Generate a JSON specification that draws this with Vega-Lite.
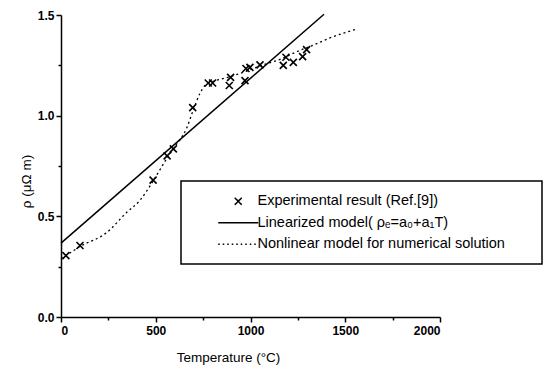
{
  "$schema": "https://vega.github.io/schema/vega-lite/v6.json",
  "width": 379,
  "height": 302,
  "autosize": {"type": "none"},
  "padding": {"left": 61, "top": 15, "right": 107, "bottom": 57},
  "background": "white",
  "config": {
    "view": {"stroke": null},
    "font": "Liberation Sans, Arial, sans-serif",
    "axis": {
      "grid": false,
      "domainColor": "black",
      "domainWidth": 1.5,
      "tickColor": "black",
      "tickWidth": 1.5,
      "labelColor": "black",
      "labelFont": "Liberation Sans, Arial, sans-serif",
      "labelFontSize": 12,
      "labelFontWeight": "bold",
      "titleColor": "black",
      "titleFont": "Liberation Sans, Arial, sans-serif",
      "titleFontSize": 13.5,
      "titleFontWeight": "normal"
    }
  },
  "datasets": {
    "exp": [
      {"series": "Experimental result (Ref.[9])", "T": 26, "rho": 0.305},
      {"series": "Experimental result (Ref.[9])", "T": 100, "rho": 0.355},
      {"series": "Experimental result (Ref.[9])", "T": 486, "rho": 0.68},
      {"series": "Experimental result (Ref.[9])", "T": 560, "rho": 0.80},
      {"series": "Experimental result (Ref.[9])", "T": 593, "rho": 0.835},
      {"series": "Experimental result (Ref.[9])", "T": 695, "rho": 1.04},
      {"series": "Experimental result (Ref.[9])", "T": 777, "rho": 1.162},
      {"series": "Experimental result (Ref.[9])", "T": 800, "rho": 1.162},
      {"series": "Experimental result (Ref.[9])", "T": 888, "rho": 1.15},
      {"series": "Experimental result (Ref.[9])", "T": 895, "rho": 1.19},
      {"series": "Experimental result (Ref.[9])", "T": 971, "rho": 1.174},
      {"series": "Experimental result (Ref.[9])", "T": 976, "rho": 1.234},
      {"series": "Experimental result (Ref.[9])", "T": 997, "rho": 1.24},
      {"series": "Experimental result (Ref.[9])", "T": 1050, "rho": 1.252},
      {"series": "Experimental result (Ref.[9])", "T": 1173, "rho": 1.25},
      {"series": "Experimental result (Ref.[9])", "T": 1187, "rho": 1.29},
      {"series": "Experimental result (Ref.[9])", "T": 1226, "rho": 1.265},
      {"series": "Experimental result (Ref.[9])", "T": 1275, "rho": 1.293},
      {"series": "Experimental result (Ref.[9])", "T": 1296, "rho": 1.328}
    ],
    "lin": [
      {"series": "Linearized model( ρₑ=a₀+a₁T)", "T": 0, "rho": 0.367},
      {"series": "Linearized model( ρₑ=a₀+a₁T)", "T": 1388, "rho": 1.504}
    ],
    "nonlin": [
      {"series": "Nonlinear model for numerical solution", "T": 0, "rho": 0.29},
      {"series": "Nonlinear model for numerical solution", "T": 26, "rho": 0.305},
      {"series": "Nonlinear model for numerical solution", "T": 100, "rho": 0.35},
      {"series": "Nonlinear model for numerical solution", "T": 242, "rho": 0.42},
      {"series": "Nonlinear model for numerical solution", "T": 347, "rho": 0.52},
      {"series": "Nonlinear model for numerical solution", "T": 417, "rho": 0.58},
      {"series": "Nonlinear model for numerical solution", "T": 486, "rho": 0.675},
      {"series": "Nonlinear model for numerical solution", "T": 560, "rho": 0.79},
      {"series": "Nonlinear model for numerical solution", "T": 600, "rho": 0.845},
      {"series": "Nonlinear model for numerical solution", "T": 664, "rho": 0.94},
      {"series": "Nonlinear model for numerical solution", "T": 695, "rho": 1.02},
      {"series": "Nonlinear model for numerical solution", "T": 733, "rho": 1.11},
      {"series": "Nonlinear model for numerical solution", "T": 760, "rho": 1.15},
      {"series": "Nonlinear model for numerical solution", "T": 790, "rho": 1.165},
      {"series": "Nonlinear model for numerical solution", "T": 880, "rho": 1.19},
      {"series": "Nonlinear model for numerical solution", "T": 976, "rho": 1.22},
      {"series": "Nonlinear model for numerical solution", "T": 1060, "rho": 1.25},
      {"series": "Nonlinear model for numerical solution", "T": 1156, "rho": 1.28},
      {"series": "Nonlinear model for numerical solution", "T": 1250, "rho": 1.32},
      {"series": "Nonlinear model for numerical solution", "T": 1330, "rho": 1.35},
      {"series": "Nonlinear model for numerical solution", "T": 1430, "rho": 1.39},
      {"series": "Nonlinear model for numerical solution", "T": 1560, "rho": 1.43}
    ]
  },
  "encoding": {
    "x": {
      "field": "T", "type": "quantitative",
      "scale": {"domain": [0, 2000], "nice": false},
      "axis": {
        "title": "Temperature (°C)",
        "values": [0, 250, 500, 750, 1000, 1250, 1500, 1750, 2000],
        "labelExpr": "datum.value % 500 === 0 ? format(datum.value, 'd') : ''",
        "tickSize": {"condition": {"test": "datum.value % 500 === 0", "value": 5}, "value": 3},
        "labelPadding": 3,
        "titlePadding": 14,
        "titleX": 167
      }
    },
    "y": {
      "field": "rho", "type": "quantitative",
      "scale": {"domain": [0, 1.5], "nice": false},
      "axis": {
        "title": "ρ (μΩ m)",
        "values": [0, 0.25, 0.5, 0.75, 1, 1.25, 1.5],
        "labelExpr": "round(datum.value * 4) % 2 === 0 ? format(datum.value, '.1f') : ''",
        "tickSize": {"condition": {"test": "round(datum.value * 4) % 2 === 0", "value": 5}, "value": 3},
        "labelPadding": 2,
        "titlePadding": 4,
        "titleY": 166
      }
    },
    "color": {
      "field": "series", "type": "nominal",
      "scale": {
        "domain": ["Experimental result (Ref.[9])", "Linearized model( ρₑ=a₀+a₁T)", "Nonlinear model for numerical solution"],
        "range": ["black", "black", "black"]
      },
      "legend": {
        "title": "\u00a0",
        "titleOrient": "right",
        "titlePadding": 24,
        "titleFontSize": 10,
        "orient": "none",
        "legendX": 120,
        "legendY": 166,
        "strokeColor": "black",
        "fillColor": "white",
        "padding": 13,
        "symbolOffset": 37,
        "symbolSize": 100,
        "symbolType": "stroke",
        "labelOffset": 12,
        "rowPadding": 6.5,
        "labelFont": "Liberation Sans, Arial, sans-serif",
        "labelFontSize": 14.5,
        "labelColor": "black",
        "labelLimit": 400,
        "encode": {
          "legend": {"update": {"strokeWidth": {"value": 1.5}}},
          "symbols": {
            "update": {
              "shape": {"signal": "datum.label === 'Experimental result (Ref.[9])' ? 'M-0.7,-0.7L0.7,0.7M0.7,-0.7L-0.7,0.7' : 'M-4,0L4,0'"},
              "strokeDash": {"signal": "datum.label === 'Nonlinear model for numerical solution' ? [1.5, 3] : [1, 0]"},
              "stroke": {"value": "black"},
              "fill": {"value": "transparent"},
              "strokeWidth": {"value": 1.5},
              "opacity": {"value": 1}
            }
          }
        }
      }
    }
  },
  "layer": [
    {
      "data": {"name": "nonlin"},
      "mark": {"type": "line", "strokeDash": [2, 3], "strokeWidth": 1.3, "interpolate": "monotone"}
    },
    {
      "data": {"name": "lin"},
      "mark": {"type": "line", "strokeWidth": 1.5}
    },
    {
      "data": {"name": "exp"},
      "mark": {"type": "point", "shape": "M-1,-1L1,1M1,-1L-1,1", "size": 49, "filled": false, "strokeWidth": 1.6, "opacity": 1}
    }
  ]
}
